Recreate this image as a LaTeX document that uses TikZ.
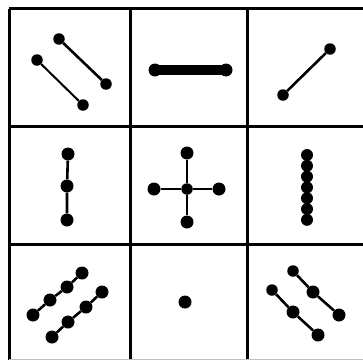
\documentclass[tikz,border=0pt]{standalone}
\begin{document}
\begin{tikzpicture}[x=1pt,y=-1pt,
  grid/.style={line width=3pt},
  faint/.style={line width=1pt, black!25},
  dot/.style={circle, fill, inner sep=0pt, minimum size=11.5pt},
  bigdot/.style={circle, fill, inner sep=0pt, minimum size=13pt},
  bead/.style={circle, fill, inner sep=0pt, minimum size=12pt},
  rod/.style={line width=2.6pt},
  thinrod/.style={line width=2pt},
  bar/.style={line width=10pt, line cap=round}]
\useasboundingbox (0,0) rectangle (363,361);
% grid
\coordinate (tl) at (9,9);
\coordinate (tr) at (363,9);
\coordinate (bl) at (9,360);
\coordinate (v1t) at (130,9);
\coordinate (v1b) at (130,360);
\coordinate (v2t) at (247,9);
\coordinate (v2b) at (247,360);
\coordinate (h1l) at (9,126);
\coordinate (h1r) at (363,126);
\coordinate (h2l) at (9,244);
\coordinate (h2r) at (363,244);
\coordinate (fl) at (9,359.5);
\coordinate (fr) at (363,359.5);
\draw[grid] (tl) -- (tr);
\draw[grid] (tl) -- (bl);
\draw[grid] (v1t) -- (v1b);
\draw[grid] (v2t) -- (v2b);
\draw[grid] (h1l) -- (h1r);
\draw[grid] (h2l) -- (h2r);
\draw[faint] (fl) -- (fr);
% cell 1,1
\node[dot] (a1) at (59,39) {};
\node[dot] (a2) at (106,84) {};
\node[dot] (b1) at (37,60) {};
\node[dot] (b2) at (83,105) {};
\draw[rod] (a1) -- (a2);
\draw[thinrod] (b1) -- (b2);
% cell 1,2
\node[bigdot] (c1) at (155,70) {};
\node[bigdot] (c2) at (226,70) {};
\draw[bar] (c1.center) -- (c2.center);
% cell 1,3
\node[dot] (d1) at (283,95) {};
\node[dot] (d2) at (330,49) {};
\draw[rod] (d1) -- (d2);
% cell 2,1
\node[bigdot] (e1) at (68,154) {};
\node[bigdot] (e2) at (67,186) {};
\node[bigdot] (e3) at (67,220) {};
\draw[rod] (e1) -- (e2) -- (e3);
% cell 2,2
\node[dot] (f0) at (187,189) {};
\node[bigdot] (fN) at (187,153) {};
\node[bigdot] (fS) at (187,222) {};
\node[bigdot] (fW) at (154,189) {};
\node[bigdot] (fE) at (219,189) {};
\draw[rod] (fN) -- (f0) -- (fS);
\draw[rod] (fW) -- (f0) -- (fE);
% cell 2,3
\foreach \i in {0,...,6}{
  \node[bead] (g\i) at (307,{155+\i*10.8}) {};
}
% cell 3,1
\node[bigdot] (h1) at (33,315) {};
\node[bigdot] (h2) at (50,300) {};
\node[bigdot] (h3) at (67,287) {};
\node[bigdot] (h4) at (82,273) {};
\draw[rod] (h1) -- (h2) -- (h3) -- (h4);
\node[bigdot] (i1) at (52,337) {};
\node[bigdot] (i2) at (68,322) {};
\node[bigdot] (i3) at (86,307) {};
\node[bigdot] (i4) at (102,292) {};
\draw[rod] (i1) -- (i2) -- (i3) -- (i4);
% cell 3,2
\node[bigdot] (j1) at (185,302) {};
% cell 3,3
\node[dot] (k1) at (293,271) {};
\node[bigdot] (k2) at (313,292) {};
\node[bigdot] (k3) at (339,315) {};
\draw[rod] (k1) -- (k2) -- (k3);
\node[dot] (l1) at (272,290) {};
\node[bigdot] (l2) at (293,312) {};
\node[bigdot] (l3) at (318,335) {};
\draw[rod] (l1) -- (l2) -- (l3);
\end{tikzpicture}
\end{document}
